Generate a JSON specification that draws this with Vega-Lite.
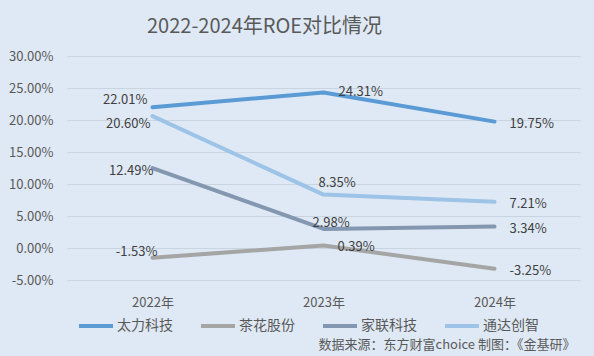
{
  "$schema": "https://vega.github.io/schema/vega-lite/v6.json",
  "width": 513,
  "height": 224,
  "autosize": {"type": "none"},
  "padding": {"left": 67, "top": 56, "right": 14, "bottom": 76},
  "background": "#dfe9f5",
  "config": {
    "view": {"stroke": null},
    "font": "Noto Sans CJK SC"
  },
  "title": {
    "text": "2022-2024年ROE对比情况",
    "fontSize": 20,
    "fontWeight": "normal",
    "color": "#595959",
    "anchor": "start",
    "frame": "group",
    "dx": 80,
    "offset": -3,
    "baseline": "alphabetic"
  },
  "data": {
    "values": [
      {"series": "太力科技", "year": "2022年", "roe": 0.2201},
      {"series": "太力科技", "year": "2023年", "roe": 0.2431},
      {"series": "太力科技", "year": "2024年", "roe": 0.1975},
      {"series": "茶花股份", "year": "2022年", "roe": -0.0153},
      {"series": "茶花股份", "year": "2023年", "roe": 0.0039},
      {"series": "茶花股份", "year": "2024年", "roe": -0.0325},
      {"series": "家联科技", "year": "2022年", "roe": 0.1249},
      {"series": "家联科技", "year": "2023年", "roe": 0.0298},
      {"series": "家联科技", "year": "2024年", "roe": 0.0334},
      {"series": "通达创智", "year": "2022年", "roe": 0.2060},
      {"series": "通达创智", "year": "2023年", "roe": 0.0835},
      {"series": "通达创智", "year": "2024年", "roe": 0.0721}
    ]
  },
  "transform": [
    {"calculate": "replace(format(datum.roe, '.2%'), '\u2212', '-')", "as": "label"}
  ],
  "encoding": {
    "x": {
      "field": "year",
      "type": "ordinal",
      "sort": ["2022年", "2023年", "2024年"],
      "scale": {"type": "point", "padding": 0.5},
      "axis": {
        "labelAngle": 0,
        "domain": false,
        "ticks": false,
        "grid": false,
        "labelPadding": 16,
        "labelFontSize": 13,
        "labelColor": "#595959",
        "title": "数据来源：东方财富choice   制图：《金基研》",
        "titleFontSize": 13,
        "titleFontWeight": "normal",
        "titleColor": "#595959",
        "titleAlign": "right",
        "titleAnchor": "end",
        "titleX": 508,
        "titleY": 68,
        "titleBaseline": "alphabetic"
      }
    },
    "y": {
      "field": "roe",
      "type": "quantitative",
      "scale": {"domain": [-0.05, 0.3], "nice": false, "zero": false},
      "axis": {
        "values": [-0.05, 0, 0.05, 0.1, 0.15, 0.2, 0.25, 0.3],
        "labelExpr": "replace(format(datum.value, '.2%'), '\u2212', '-')",
        "domain": false,
        "ticks": false,
        "grid": true,
        "gridColor": "#c9d4e1",
        "gridWidth": 1,
        "labelPadding": 14,
        "labelFontSize": 13,
        "labelColor": "#595959",
        "title": null
      }
    }
  },
  "layer": [
    {
      "mark": {"type": "line", "strokeWidth": 4, "strokeCap": "round", "strokeJoin": "round"},
      "encoding": {
        "color": {
          "field": "series",
          "type": "nominal",
          "scale": {
            "domain": ["太力科技", "茶花股份", "家联科技", "通达创智"],
            "range": ["#5b9bd5", "#a5a5a5", "#8497b0", "#9dc3e6"]
          },
          "legend": {
            "orient": "none",
            "legendX": 10,
            "legendY": 251,
            "direction": "horizontal",
            "columns": 4,
            "title": null,
            "symbolType": "stroke",
            "symbolSize": 1156,
            "symbolStrokeWidth": 4,
            "labelFontSize": 14,
            "labelColor": "#595959",
            "labelOffset": 2,
            "columnPadding": 20
          }
        }
      }
    },
    {
      "transform": [{"filter": "datum.year == '2022年' && datum.series == '太力科技'"}],
      "mark": {"type": "text", "align": "right", "baseline": "middle", "dx": -5, "dy": -7, "fontSize": 13, "color": "#404040"},
      "encoding": {"text": {"field": "label", "type": "nominal"}}
    },
    {
      "transform": [{"filter": "datum.year == '2022年' && datum.series == '通达创智'"}],
      "mark": {"type": "text", "align": "right", "baseline": "middle", "dx": -2, "dy": 8, "fontSize": 13, "color": "#404040"},
      "encoding": {"text": {"field": "label", "type": "nominal"}}
    },
    {
      "transform": [{"filter": "datum.year == '2022年' && datum.series == '家联科技'"}],
      "mark": {"type": "text", "align": "right", "baseline": "middle", "dx": 1, "dy": 3, "fontSize": 13, "color": "#404040"},
      "encoding": {"text": {"field": "label", "type": "nominal"}}
    },
    {
      "transform": [{"filter": "datum.year == '2022年' && datum.series == '茶花股份'"}],
      "mark": {"type": "text", "align": "right", "baseline": "middle", "dx": 5, "dy": -6, "fontSize": 13, "color": "#404040"},
      "encoding": {"text": {"field": "label", "type": "nominal"}}
    },
    {
      "transform": [{"filter": "datum.year == '2023年' && datum.series == '太力科技'"}],
      "mark": {"type": "text", "align": "left", "baseline": "middle", "dx": 15, "dy": 0, "fontSize": 13, "color": "#404040"},
      "encoding": {"text": {"field": "label", "type": "nominal"}}
    },
    {
      "transform": [{"filter": "datum.year == '2023年' && datum.series == '通达创智'"}],
      "mark": {"type": "text", "align": "left", "baseline": "middle", "dx": -5, "dy": -12, "fontSize": 13, "color": "#404040"},
      "encoding": {"text": {"field": "label", "type": "nominal"}}
    },
    {
      "transform": [{"filter": "datum.year == '2023年' && datum.series == '家联科技'"}],
      "mark": {"type": "text", "align": "left", "baseline": "middle", "dx": -11, "dy": -6, "fontSize": 13, "color": "#404040"},
      "encoding": {"text": {"field": "label", "type": "nominal"}}
    },
    {
      "transform": [{"filter": "datum.year == '2023年' && datum.series == '茶花股份'"}],
      "mark": {"type": "text", "align": "left", "baseline": "middle", "dx": 14, "dy": 1, "fontSize": 13, "color": "#404040"},
      "encoding": {"text": {"field": "label", "type": "nominal"}}
    },
    {
      "transform": [{"filter": "datum.year == '2024年'"}],
      "mark": {"type": "text", "align": "left", "baseline": "middle", "dx": 15, "dy": 2, "fontSize": 13, "color": "#404040"},
      "encoding": {"text": {"field": "label", "type": "nominal"}}
    }
  ]
}
